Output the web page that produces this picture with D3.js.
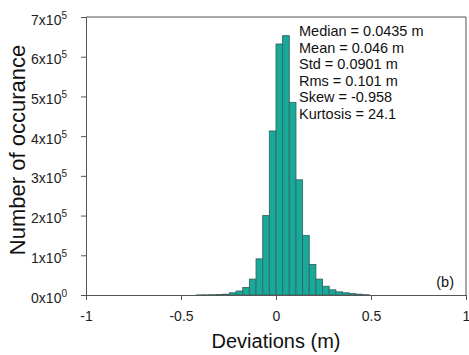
<!DOCTYPE html>
<html>
<head>
<meta charset="utf-8">
<script src="https://cdn.jsdelivr.net/npm/d3@7"></script>
<style>
  body { margin: 0; background: #fff; }
  svg { font-family: "Liberation Sans", Arial, sans-serif; }
</style>
</head>
<body>
<div id="hist"></div>
<script>
// histogram bins (width 0.035 m), left edges and counts
const binWidth = 0.035;
const binStarts = [-0.42, -0.385, -0.35, -0.315, -0.28, -0.245, -0.21, -0.175, -0.14, -0.105, -0.07, -0.035,
  0, 0.035, 0.07, 0.105, 0.14, 0.175, 0.21, 0.245, 0.28, 0.315, 0.35, 0.385, 0.42, 0.455];
const counts = [300, 500, 800, 1200, 2000, 5500, 10000, 19000, 40000, 91000, 200000, 413000,
  632000, 653000, 485000, 290000, 150000, 77000, 40000, 22000, 13000, 8000, 5500, 3500, 2000, 800];
const xTicks = [-1, -0.5, 0, 0.5, 1];
const xTickLabels = ["-1", "-0.5", "0", "0.5", "1"];
const yTicks = [0, 1e5, 2e5, 3e5, 4e5, 5e5, 6e5, 7e5];
const statLines = ["Median = 0.0435 m", "Mean = 0.046 m", "Std = 0.0901 m",
  "Rms = 0.101 m", "Skew = -0.958", "Kurtosis = 24.1"];

const width = 469, height = 355;
const plotL = 86, plotR = 466, plotT = 17, plotB = 295;

const svg = d3.select("#hist").append("svg")
  .attr("width", width)
  .attr("height", height);

const x = d3.scaleLinear().domain([-1, 1]).range([plotL, plotR]);
const y = d3.scaleLinear().domain([0, 7e5]).range([plotB, plotT]);

// bars
svg.append("g")
  .selectAll("rect")
  .data(binStarts)
  .join("rect")
  .attr("x", d => x(d))
  .attr("width", d => x(d + binWidth) - x(d))
  .attr("y", (d, i) => y(counts[i]))
  .attr("height", (d, i) => y(0) - y(counts[i]))
  .attr("fill", "#17a99a")
  .attr("stroke", "#3b6561")
  .attr("stroke-width", 0.9);

// frame (top and right)
svg.append("path")
  .attr("d", `M${plotL},${plotT}H${plotR}V${plotB}`)
  .attr("fill", "none")
  .attr("stroke", "#555")
  .attr("stroke-width", 1);

// X axis
const xAxis = svg.append("g")
  .attr("transform", `translate(0,${plotB})`)
  .call(d3.axisBottom(x).tickValues(xTicks).tickSize(5).tickPadding(11)
    .tickFormat((d, i) => xTickLabels[i]));
xAxis.select(".domain").attr("stroke", "#555");
xAxis.selectAll(".tick line").attr("stroke", "#555");
xAxis.selectAll("text").attr("font-size", 14).attr("fill", "#222");

// Y axis
const yAxis = svg.append("g")
  .attr("transform", `translate(${plotL},0)`)
  .call(d3.axisLeft(y).tickValues(yTicks).tickSize(5).tickPadding(14).tickFormat(""));
yAxis.select(".domain").attr("stroke", "#555");
yAxis.selectAll(".tick line").attr("stroke", "#555");
yAxis.selectAll(".tick text").each(function(d) {
  const t = d3.select(this)
    .attr("font-size", 14)
    .attr("fill", "#222")
    .attr("text-anchor", "end")
    .attr("dy", "0.5em");
  t.append("tspan").text(`${d / 1e5}x10`);
  t.append("tspan").attr("dy", -6).attr("font-size", 10).text(d === 0 ? "0" : "5");
});

// stats text
svg.append("g")
  .selectAll("text")
  .data(statLines)
  .join("text")
  .attr("x", 299)
  .attr("y", (d, i) => 36 + i * 16.6)
  .attr("font-size", 14.5)
  .attr("fill", "#111")
  .text(d => d);

// panel label
svg.append("text")
  .attr("x", 454)
  .attr("y", 287)
  .attr("text-anchor", "end")
  .attr("font-size", 14.5)
  .attr("fill", "#111")
  .text("(b)");

// X label
svg.append("text")
  .attr("x", (plotL + plotR) / 2)
  .attr("y", 348)
  .attr("text-anchor", "middle")
  .attr("font-size", 20)
  .attr("fill", "#111")
  .text("Deviations (m)");

// Y label
svg.append("text")
  .attr("transform", "rotate(-90)")
  .attr("x", -150)
  .attr("y", 25)
  .attr("text-anchor", "middle")
  .attr("font-size", 22)
  .attr("fill", "#111")
  .text("Number of occurance");
</script>
</body>
</html>
